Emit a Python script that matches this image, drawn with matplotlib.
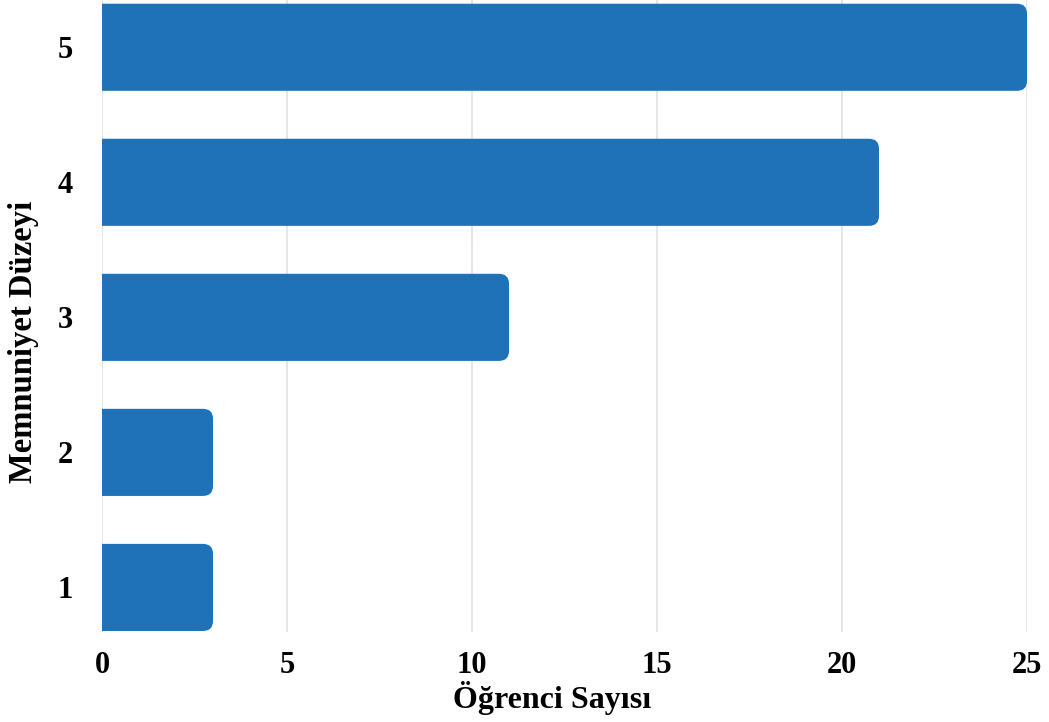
import matplotlib
matplotlib.use('Agg')
import matplotlib.pyplot as plt
from matplotlib.patches import FancyBboxPatch

# Data
levels = ['1', '2', '3', '4', '5']
counts = [3, 3, 11, 21, 25]
x_ticks = [0, 5, 10, 15, 20, 25]

bar_color = '#1f72b8'
plt.rcParams['font.family'] = ['Liberation Serif', 'DejaVu Serif']
plt.rcParams['font.weight'] = 'bold'

fig = plt.figure(figsize=(10.49, 7.22), dpi=100)
ax = fig.add_axes([102 / 1049, 1 - 632 / 722, 925 / 1049, 632 / 722])

y_pos = list(range(1, len(levels) + 1))
bars = ax.barh(y_pos, counts, height=0.645, color=bar_color)

# Replace bars with right-rounded versions (left side starts behind the axis edge, clipped)
for bar in bars:
    bar.set_visible(False)
    x0, y0 = bar.get_x(), bar.get_y()
    w, h = bar.get_width(), bar.get_height()
    patch = FancyBboxPatch((x0 - 1, y0), w + 1, h,
                           boxstyle='round,pad=0,rounding_size=0.27',
                           mutation_aspect=0.27,
                           facecolor=bar_color, edgecolor='none', zorder=3)
    ax.add_patch(patch)

ax.set_xlim(0, 25)
ax.set_ylim(0.67, 5.35)
ax.set_xticks(x_ticks)
ax.set_xticklabels([str(t) for t in x_ticks])
ax.set_yticks(y_pos)
ax.set_yticklabels(levels)

for s in ax.spines.values():
    s.set_visible(False)
ax.grid(axis='x', color='#e0e0e0', linewidth=1.2)
ax.set_axisbelow(True)
ax.tick_params(length=0, labelsize=22, colors='black')
ax.tick_params(axis='x', pad=14)
ax.tick_params(axis='y', pad=21)

ax.set_xlabel('Öğrenci Sayısı', fontsize=23, fontweight='bold')
ax.set_ylabel('Memnuniyet Düzeyi', fontsize=23.5, fontweight='bold')
ax.xaxis.set_label_coords((552 - 102) / 925, -(708 - 632) / 632)
ax.yaxis.set_label_coords(-(102 - 24) / 925, (632 - 342) / 632)
ax.xaxis.label.set_va('baseline')
ax.yaxis.label.set_va('center')

plt.savefig('out.png', dpi=100, facecolor='white')
